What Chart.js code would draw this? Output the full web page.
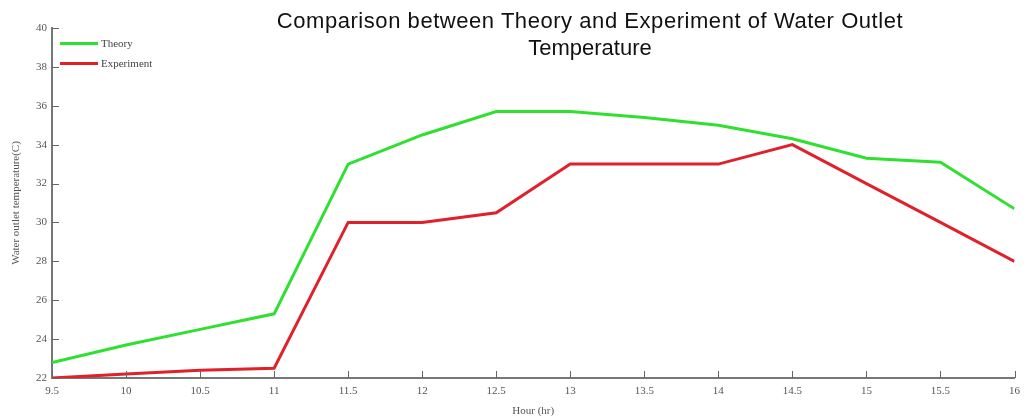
<!DOCTYPE html>
<html>
<head>
<meta charset="utf-8">
<script src="https://cdn.jsdelivr.net/npm/chart.js@4/dist/chart.umd.min.js"></script>
<style>
  html, body { margin: 0; padding: 0; background: #fff; }
  #wrap { position: relative; width: 1027px; height: 418px; }
  #title {
    position: absolute; left: 240px; top: 7px; width: 700px;
    font-family: 'Liberation Sans', Arial, sans-serif; font-size: 22px;
    color: #111; text-align: center; line-height: 27px;
  }
  #title .l1 { letter-spacing: 0.55px; }
  #legend {
    position: absolute; left: 60px; top: 33px;
    font-family: 'Liberation Serif', 'DejaVu Serif', serif; font-size: 11px; color: #444;
  }
  #legend div { display: flex; align-items: center; height: 20px; }
  #legend span.sw { display: inline-block; width: 38px; height: 3px; margin-right: 3px; }
</style>
</head>
<body>
<div id="wrap">
  <canvas id="chart" width="1027" height="418"></canvas>
  <div id="title"><span class="l1">Comparison between Theory and Experiment of Water Outlet</span><br>Temperature</div>
  <div id="legend"></div>
</div>
<script>
// chart data
const hours = [9.5, 10, 10.5, 11, 11.5, 12, 12.5, 13, 13.5, 14, 14.5, 15, 15.5, 16];
const theory = [22.8, 23.7, 24.5, 25.3, 33.0, 34.5, 35.7, 35.7, 35.4, 35.0, 34.3, 33.3, 33.1, 30.7];
const experiment = [22.0, 22.2, 22.4, 22.5, 30.0, 30.0, 30.5, 33.0, 33.0, 33.0, 34.0, 32.0, 30.0, 28.0];
const seriesNames = ['Theory', 'Experiment'];
const seriesColors = ['#30e030', '#e0202a'];

const serif = "'Liberation Serif', 'DejaVu Serif', serif";

// small inward tick marks, like the original plot
const inwardTicks = {
    id: 'inwardTicks',
    afterDraw(chart) {
        const ctx = chart.ctx;
        const x = chart.scales.x, y = chart.scales.y;
        ctx.save();
        ctx.strokeStyle = '#666';
        ctx.lineWidth = 1;
        ctx.beginPath();
        x.ticks.forEach(t => {
            const px = Math.round(x.getPixelForValue(t.value)) + 0.5;
            ctx.moveTo(px, y.bottom);
            ctx.lineTo(px, y.bottom - 7);
        });
        y.ticks.forEach(t => {
            const py = Math.round(y.getPixelForValue(t.value)) + 0.5;
            ctx.moveTo(x.left, py);
            ctx.lineTo(x.left + 7, py);
        });
        ctx.stroke();
        ctx.restore();
    }
};

const chart = new Chart(document.getElementById('chart'), {
    type: 'line',
    data: {
        datasets: [
            { label: seriesNames[0], data: hours.map((h, i) => ({ x: h, y: theory[i] })) },
            { label: seriesNames[1], data: hours.map((h, i) => ({ x: h, y: experiment[i] })) }
        ].map((d, i) => Object.assign(d, {
            borderColor: seriesColors[i],
            backgroundColor: seriesColors[i],
            borderWidth: 3,
            pointRadius: 0,
            tension: 0
        }))
    },
    options: {
        responsive: false,
        animation: false,
        layout: { padding: { top: 28, right: 5, left: 10, bottom: 0 } },
        plugins: { legend: { display: false }, tooltip: { enabled: false } },
        scales: {
            x: {
                type: 'linear', min: 9.5, max: 16,
                ticks: { stepSize: 0.5, color: '#555', font: { family: serif, size: 11 }, padding: 7,
                         callback: v => String(v) },
                grid: { drawOnChartArea: false, drawTicks: false, color: '#666' },
                border: { color: '#777', width: 2 },
                title: { display: true, text: 'Hour (hr)', color: '#555', font: { family: serif, size: 11 }, padding: 0 },
                afterFit(s) { s.height = 40; }
            },
            y: {
                min: 22, max: 40,
                ticks: { stepSize: 2, color: '#555', font: { family: serif, size: 11 }, padding: 5 },
                grid: { drawOnChartArea: false, drawTicks: false },
                border: { color: '#777', width: 2 },
                title: { display: true, text: 'Water outlet temperature(C)', color: '#555', font: { family: serif, size: 11 }, padding: 0 },
                afterFit(s) { s.width = 42; }
            }
        }
    },
    plugins: [inwardTicks]
});

// legend inside the plot, top left
const legendEl = document.getElementById('legend');
chart.data.datasets.forEach(d => {
    const row = document.createElement('div');
    row.innerHTML = `<span class="sw" style="background:${d.borderColor}"></span>${d.label}`;
    legendEl.appendChild(row);
});
</script>
</body>
</html>
